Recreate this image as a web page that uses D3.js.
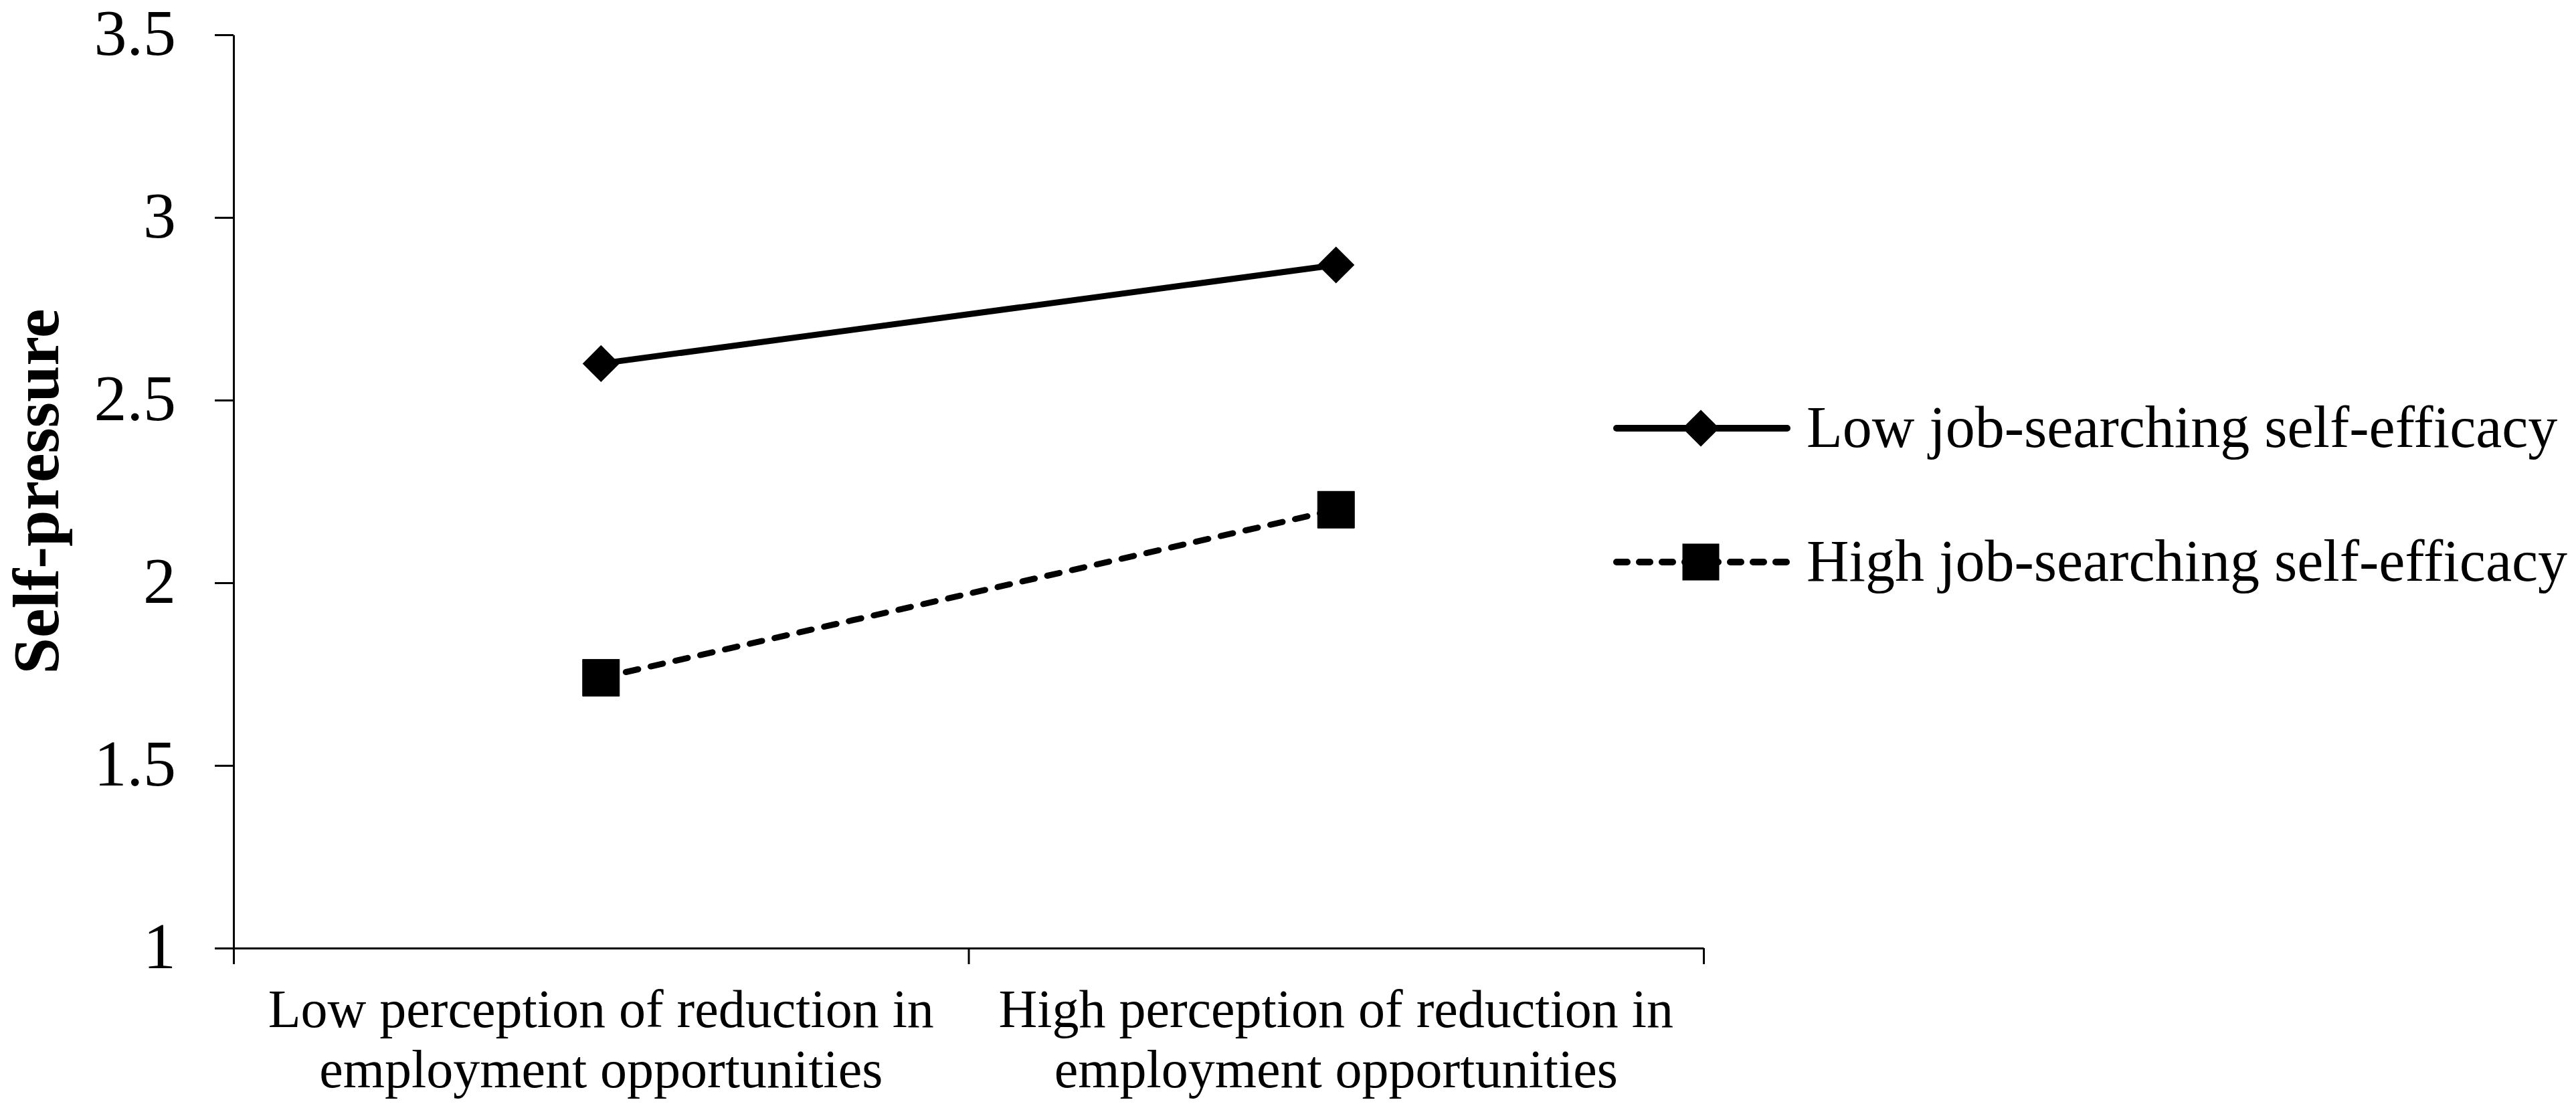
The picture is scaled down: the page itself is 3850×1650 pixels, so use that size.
<!DOCTYPE html>
<html>
<head>
<meta charset="utf-8">
<script src="https://cdn.jsdelivr.net/npm/d3@7"></script>
<style>
  body { margin: 0; background: #fff; }
  text { font-family: "Liberation Serif", "Times New Roman", serif; fill: #000; }
</style>
</head>
<body>
<svg id="chart" width="3850" height="1650"></svg>
<script>
// categories on the x axis (each label split into two lines)
const categories = ["low", "high"];
const categoryLabels = [
  ["Low perception of reduction in", "employment opportunities"],
  ["High perception of reduction in", "employment opportunities"]
];

// series values
const lowEfficacy = [2.60, 2.87];
const highEfficacy = [1.74, 2.20];

const seriesNames = ["Low job-searching self-efficacy", "High job-searching self-efficacy"];
const yTicks = [1, 1.5, 2, 2.5, 3, 3.5];

const svg = d3.select("#chart");

const plotLeft = 349, plotRight = 2546, plotTop = 52, plotBottom = 1417;

const yScale = d3.scaleLinear().domain([1, 3.5]).range([plotBottom, plotTop]);
const xScale = d3.scaleBand().domain(categories).range([plotLeft, plotRight]).padding(0);
const edgeScale = d3.scaleLinear().domain([0, categories.length]).range([plotLeft, plotRight]);

// y axis
const yAxis = svg.append("g")
  .attr("transform", `translate(${plotLeft},0)`)
  .call(d3.axisLeft(yScale).tickValues(yTicks).tickSize(28).tickSizeOuter(0)
    .tickPadding(58).tickFormat(d => String(d)));
yAxis.selectAll("path, line").attr("stroke", "#000").attr("stroke-width", 3);
yAxis.selectAll("text").attr("font-size", 98).attr("dy", "0.3em");

// x axis: ticks sit on the band edges
const xAxis = svg.append("g")
  .attr("transform", `translate(0,${plotBottom})`)
  .call(d3.axisBottom(edgeScale).tickValues([0, 1, 2]).tickSize(24).tickSizeOuter(0).tickFormat(""));
xAxis.selectAll("path, line").attr("stroke", "#000").attr("stroke-width", 3);

// category labels
categoryLabels.forEach((lines, i) => {
  const mid = xScale(categories[i]) + xScale.bandwidth() / 2;
  svg.append("text")
    .attr("text-anchor", "middle")
    .attr("font-size", 80)
    .selectAll("tspan")
    .data(lines)
    .enter()
    .append("tspan")
    .attr("x", mid)
    .attr("y", (d, j) => 1535 + j * 90)
    .text(d => d);
});

// y axis title
svg.append("text")
  .attr("transform", `translate(87,${(plotTop + plotBottom) / 2}) rotate(-90)`)
  .attr("text-anchor", "middle")
  .attr("font-size", 98)
  .attr("font-weight", "bold")
  .text("Self-pressure");

const cx = d => xScale(d) + xScale.bandwidth() / 2;
const line = d3.line().x(d => cx(d[0])).y(d => yScale(d[1]));

const diamond = d3.symbol().type(d3.symbolSquare).size(1520);
const square = d3.symbol().type(d3.symbolSquare).size(3025);

// low self-efficacy: solid line, diamonds
const lowData = categories.map((c, i) => [c, lowEfficacy[i]]);
svg.append("path")
  .datum(lowData)
  .attr("d", line)
  .attr("fill", "none")
  .attr("stroke", "#000")
  .attr("stroke-width", 9);
svg.selectAll(".diamond")
  .data(lowData)
  .enter()
  .append("path")
  .attr("class", "diamond")
  .attr("d", diamond)
  .attr("transform", d => `translate(${cx(d[0])},${yScale(d[1])}) rotate(45)`)
  .attr("fill", "#000");

// high self-efficacy: dashed line, squares
const highData = categories.map((c, i) => [c, highEfficacy[i]]);
svg.append("path")
  .datum(highData)
  .attr("d", line)
  .attr("fill", "none")
  .attr("stroke", "#000")
  .attr("stroke-width", 9)
  .attr("stroke-linecap", "round")
  .attr("stroke-dasharray", "19 19")
  .attr("stroke-dashoffset", -38);
svg.selectAll(".square")
  .data(highData)
  .enter()
  .append("path")
  .attr("class", "square")
  .attr("d", square)
  .attr("transform", d => `translate(${cx(d[0])},${yScale(d[1])})`)
  .attr("fill", "#000")
  .attr("stroke", "#000")
  .attr("stroke-width", 1)
  .attr("stroke-linejoin", "round");

// legend
const legend = svg.append("g").attr("transform", "translate(2416,640)");
const rows = legend.selectAll("g")
  .data(seriesNames)
  .enter()
  .append("g")
  .attr("transform", (d, i) => `translate(0,${i * 200})`);

rows.append("line")
  .attr("x1", 0).attr("x2", 255)
  .attr("stroke", "#000")
  .attr("stroke-width", 10)
  .attr("stroke-linecap", "round")
  .attr("stroke-dasharray", (d, i) => i === 0 ? null : "16 18");

rows.append("path")
  .attr("d", (d, i) => i === 0 ? diamond() : square())
  .attr("transform", (d, i) => i === 0 ? "translate(126,0) rotate(45)" : "translate(126,0)")
  .attr("fill", "#000");

rows.append("text")
  .attr("x", 284)
  .attr("y", 28)
  .attr("font-size", 88)
  .text(d => d);
</script>
</body>
</html>
